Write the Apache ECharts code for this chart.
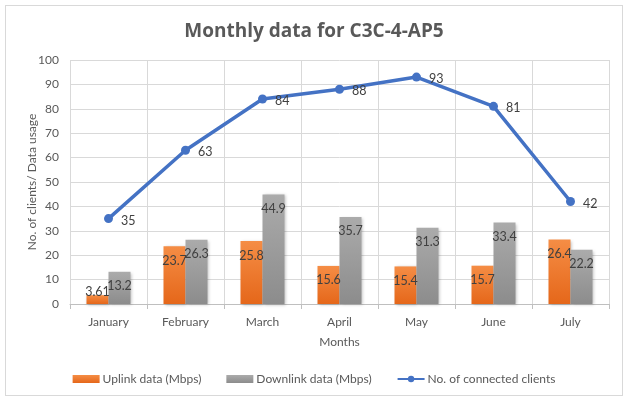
<!DOCTYPE html>
<html>
<head>
<meta charset="utf-8">
<script src="https://cdn.jsdelivr.net/npm/echarts@6/dist/echarts.min.js"></script>
<style>
	html, body { margin: 0; padding: 0; background: #fff; }
	#frame { position: absolute; left: 5px; top: 5px; width: 616px; height: 389px; border: 1px solid #d9d9d9; }
	#chart { position: absolute; left: 0; top: 0; width: 628px; height: 402px; }
</style>
</head>
<body>
<div id="frame"></div>
<div id="chart"></div>
<script>
	var months = ["January", "February", "March", "April", "May", "June", "July"];
	var uplink = [3.61, 23.7, 25.8, 15.6, 15.4, 15.7, 26.4];
	var downlink = [13.2, 26.3, 44.9, 35.7, 31.3, 33.4, 22.2];
	var clients = [35, 63, 84, 88, 93, 81, 42];

	var font = 'Lato, "Open Sans", sans-serif';
	var fs = 12;
	var chart = echarts.init(document.getElementById('chart'));

	// 柱子渐变色
	function grad(top, bottom) {
		return new echarts.graphic.LinearGradient(0, 0, 0, 1, [
			{ offset: 0, color: top },
			{ offset: 1, color: bottom }
		]);
	}

	// 太矮的柱子标签放到柱子上面
	var uplinkData = uplink.map(function(v) {
		if(v < 6) {
			return { value: v, label: { position: 'top', distance: -3 } };
		}
		return v;
	});

	var option = {
		animation: false,
		title: {
			text: 'Monthly data for C3C-4-AP5',
			left: 'center',
			top: 17,
			textStyle: {
				color: '#595959',
				fontSize: 19,
				fontWeight: 'bold',
				fontFamily: '"Open Sans", sans-serif'
			}
		},
		legend: {
			bottom: 12,
			left: 'center',
			itemWidth: 27,
			itemHeight: 8,
			itemGap: 25,
			textStyle: {
				color: '#595959',
				fontSize: fs,
				fontFamily: font,
				padding: [0, 0, 0, -2]
			},
			data: [
				{ name: 'Uplink data (Mbps)', icon: 'rect' },
				{ name: 'Downlink data (Mbps)', icon: 'rect' },
				{ name: 'No. of connected clients' }
			]
		},
		grid: {
			left: 70,
			right: 19,
			top: 60,
			bottom: 98
		},
		xAxis: {
			type: 'category',
			data: months,
			name: 'Months',
			nameLocation: 'middle',
			nameGap: 32,
			nameMoveOverlap: false,
			nameTextStyle: { color: '#595959', fontSize: fs, fontFamily: font },
			axisLine: { lineStyle: { color: '#bfbfbf' } },
			axisTick: { show: true, length: 5, lineStyle: { color: '#bfbfbf' } },
			axisLabel: { color: '#595959', fontSize: fs, fontFamily: font, margin: 12 },
			splitLine: { show: true, lineStyle: { color: '#d9d9d9' } }
		},
		yAxis: {
			type: 'value',
			min: 0,
			max: 100,
			interval: 10,
			name: 'No. of clients/ Data usage',
			nameLocation: 'middle',
			nameGap: 32,
			nameMoveOverlap: false,
			nameTextStyle: { color: '#595959', fontSize: fs, fontFamily: font },
			axisLine: { show: false },
			axisTick: { show: false },
			axisLabel: { color: '#595959', fontSize: fs, fontFamily: font, margin: 11 },
			splitLine: { lineStyle: { color: '#d9d9d9' } }
		},
		series: [{
			name: 'Uplink data (Mbps)',
			type: 'bar',
			data: uplinkData,
			barWidth: 22,
			barGap: '0%',
			itemStyle: {
				color: grad('#f58d45', '#e5671a'),
				shadowColor: 'rgba(0,0,0,0.25)',
				shadowBlur: 3,
				shadowOffsetX: 1,
				shadowOffsetY: 1
			},
			label: {
				show: true,
				position: 'insideTop',
				distance: 8,
				color: '#404040',
				fontSize: 12.5,
				fontFamily: font
			}
		}, {
			name: 'Downlink data (Mbps)',
			type: 'bar',
			data: downlink,
			barWidth: 22,
			barGap: '0%',
			itemStyle: {
				color: grad('#ababab', '#8c8c8c'),
				shadowColor: 'rgba(0,0,0,0.25)',
				shadowBlur: 3,
				shadowOffsetX: 1,
				shadowOffsetY: 1
			},
			label: {
				show: true,
				position: 'insideTop',
				distance: 8,
				color: '#404040',
				fontSize: 12.5,
				fontFamily: font
			}
		}, {
			name: 'No. of connected clients',
			type: 'line',
			data: clients,
			symbol: 'circle',
			symbolSize: 9,
			lineStyle: { color: '#4472c4', width: 3.5 },
			itemStyle: { color: '#4472c4' },
			label: {
				show: true,
				position: 'right',
				distance: 8,
				offset: [0, 2],
				color: '#404040',
				fontSize: 12.5,
				fontFamily: font
			}
		}]
	};

	chart.setOption(option);
</script>
</body>
</html>
